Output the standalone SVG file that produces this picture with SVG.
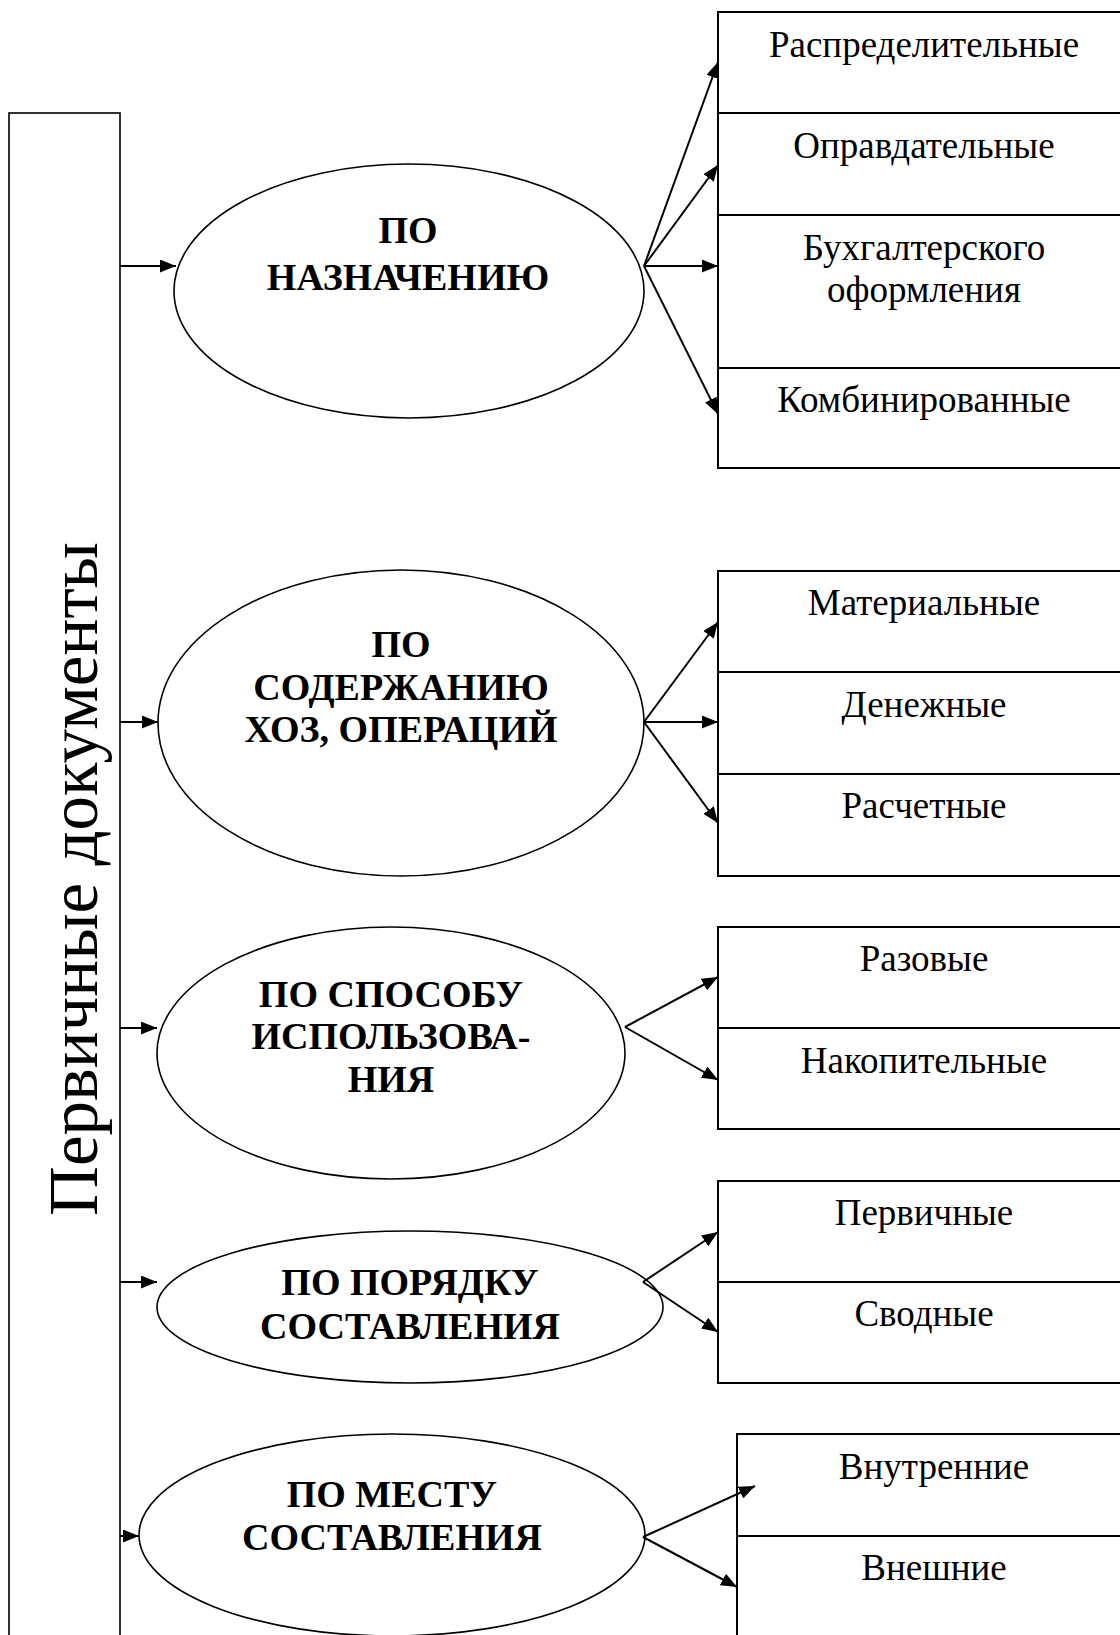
<svg xmlns="http://www.w3.org/2000/svg" width="1120" height="1635" viewBox="0 0 1120 1635">
  <style>
    .cell { fill: #fff; stroke: #000; stroke-width: 2; }
    .oval { fill: #fff; stroke: #000; stroke-width: 1.6; }
    .frame { fill: #fff; stroke: #000; stroke-width: 1.6; }
    .lbl { font-family: "Liberation Serif", "Times New Roman", serif; font-size: 37px; text-anchor: middle; fill: #000; }
    .cat { font-family: "Liberation Serif", "Times New Roman", serif; font-size: 38px; font-weight: bold; text-anchor: middle; fill: #000; }
    .title { font-family: "Liberation Serif", "Times New Roman", serif; font-size: 69px; text-anchor: middle; fill: #000; }
    .link { fill: none; stroke: #000; stroke-width: 2; marker-end: url(#head); }
  </style>
  <defs>
    <marker id="head" markerUnits="userSpaceOnUse" markerWidth="17" markerHeight="13" refX="16" refY="6.5" orient="auto">
      <path d="M0,0 L16,6.5 L0,13 z" fill="#000"/>
    </marker>
  </defs>

  <!-- root: vertical bar with rotated title -->
  <g id="root">
    <rect class="frame" x="9" y="113" width="111" height="1540"/>
    <text class="title" transform="translate(97,879) rotate(-90)" x="0" y="0">Первичные документы</text>
  </g>

  <!-- category ovals -->
  <g id="cat-purpose">
    <ellipse class="oval" cx="409" cy="291" rx="235" ry="127"/>
    <text class="cat" x="408" y="243">ПО</text>
    <text class="cat" x="408" y="290">НАЗНАЧЕНИЮ</text>
  </g>
  <g id="cat-content">
    <ellipse class="oval" cx="401" cy="723" rx="243" ry="153"/>
    <text class="cat" x="401" y="657">ПО</text>
    <text class="cat" x="401" y="700">СОДЕРЖАНИЮ</text>
    <text class="cat" x="401" y="742">ХОЗ, ОПЕРАЦИЙ</text>
  </g>
  <g id="cat-usage">
    <ellipse class="oval" cx="391" cy="1053" rx="234" ry="126"/>
    <text class="cat" x="391" y="1007">ПО СПОСОБУ</text>
    <text class="cat" x="391" y="1049">ИСПОЛЬЗОВА-</text>
    <text class="cat" x="391" y="1092">НИЯ</text>
  </g>
  <g id="cat-order">
    <ellipse class="oval" cx="410" cy="1307" rx="253" ry="76"/>
    <text class="cat" x="410" y="1295">ПО ПОРЯДКУ</text>
    <text class="cat" x="410" y="1339">СОСТАВЛЕНИЯ</text>
  </g>
  <g id="cat-place">
    <ellipse class="oval" cx="392" cy="1535" rx="253" ry="101"/>
    <text class="cat" x="392" y="1507">ПО МЕСТУ</text>
    <text class="cat" x="392" y="1550">СОСТАВЛЕНИЯ</text>
  </g>

  <!-- leaf boxes -->
  <g id="leaf-distrib">
    <rect class="cell" x="718" y="12" width="420" height="101"/>
    <text class="lbl" x="924" y="57">Распределительные</text>
  </g>
  <g id="leaf-justify">
    <rect class="cell" x="718" y="113" width="420" height="102"/>
    <text class="lbl" x="924" y="158">Оправдательные</text>
  </g>
  <g id="leaf-accounting">
    <rect class="cell" x="718" y="215" width="420" height="153"/>
    <text class="lbl" x="924" y="260">Бухгалтерского</text>
    <text class="lbl" x="924" y="302">оформления</text>
  </g>
  <g id="leaf-combined">
    <rect class="cell" x="718" y="368" width="420" height="100"/>
    <text class="lbl" x="924" y="412">Комбинированные</text>
  </g>

  <g id="leaf-material">
    <rect class="cell" x="718" y="571" width="420" height="101"/>
    <text class="lbl" x="924" y="615">Материальные</text>
  </g>
  <g id="leaf-cash">
    <rect class="cell" x="718" y="672" width="420" height="102"/>
    <text class="lbl" x="924" y="717">Денежные</text>
  </g>
  <g id="leaf-settlement">
    <rect class="cell" x="718" y="774" width="420" height="102"/>
    <text class="lbl" x="924" y="818">Расчетные</text>
  </g>

  <g id="leaf-single">
    <rect class="cell" x="718" y="927" width="420" height="101"/>
    <text class="lbl" x="924" y="971">Разовые</text>
  </g>
  <g id="leaf-cumulative">
    <rect class="cell" x="718" y="1028" width="420" height="101"/>
    <text class="lbl" x="924" y="1073">Накопительные</text>
  </g>

  <g id="leaf-primary">
    <rect class="cell" x="718" y="1181" width="420" height="101"/>
    <text class="lbl" x="924" y="1225">Первичные</text>
  </g>
  <g id="leaf-summary">
    <rect class="cell" x="718" y="1282" width="420" height="101"/>
    <text class="lbl" x="924" y="1326">Сводные</text>
  </g>

  <g id="leaf-internal">
    <rect class="cell" x="737" y="1434" width="420" height="102"/>
    <text class="lbl" x="934" y="1479">Внутренние</text>
  </g>
  <g id="leaf-external">
    <rect class="cell" x="737" y="1536" width="420" height="110"/>
    <text class="lbl" x="934" y="1580">Внешние</text>
  </g>

  <!-- connectors -->
  <g id="connectors">
    <line class="link" x1="120" y1="266" x2="176" y2="266"/>
    <line class="link" x1="120" y1="722" x2="158" y2="722"/>
    <line class="link" x1="120" y1="1028" x2="157" y2="1028"/>
    <line class="link" x1="120" y1="1282" x2="157" y2="1282"/>
    <line class="link" x1="120" y1="1536" x2="139" y2="1536"/>

    <line class="link" x1="644" y1="266" x2="718" y2="62"/>
    <line class="link" x1="644" y1="266" x2="718" y2="165"/>
    <line class="link" x1="644" y1="266" x2="718" y2="266"/>
    <line class="link" x1="644" y1="266" x2="718" y2="414"/>

    <line class="link" x1="644" y1="722" x2="718" y2="622"/>
    <line class="link" x1="644" y1="722" x2="718" y2="722"/>
    <line class="link" x1="644" y1="722" x2="718" y2="823"/>

    <line class="link" x1="625" y1="1027" x2="718" y2="977"/>
    <line class="link" x1="625" y1="1027" x2="718" y2="1080"/>

    <line class="link" x1="643" y1="1282" x2="718" y2="1232"/>
    <line class="link" x1="643" y1="1282" x2="718" y2="1332"/>

    <line class="link" x1="643" y1="1537" x2="755" y2="1486"/>
    <line class="link" x1="643" y1="1537" x2="737" y2="1587"/>
  </g>
</svg>
